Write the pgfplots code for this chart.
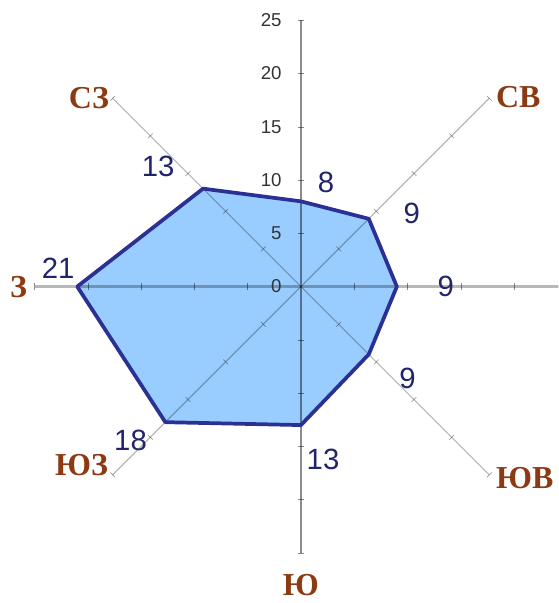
\documentclass[border=0pt]{standalone}
\usepackage{fontspec}
\setmainfont{Liberation Sans}
\newfontfamily\dirfont{Liberation Serif}
\usepackage{pgfplots}
\pgfplotsset{compat=1.18}
\definecolor{fillblue}{HTML}{99CCFF}
\definecolor{edgeblue}{HTML}{2B3192}
\definecolor{numblue}{HTML}{22236A}
\definecolor{dirbrown}{HTML}{8B3A12}
\definecolor{spokegray}{HTML}{B8B8B8}
\definecolor{vertgray}{HTML}{8C8C8C}
\definecolor{ticktext}{HTML}{333333}

\begin{document}
\begin{tikzpicture}
\begin{axis}[
    x=8pt, y=8pt,
    xmin=-28.25, xmax=24.15,
    ymin=-29.7, ymax=26.9,
    hide axis,
    clip=true,
  ]
% wind rose, (angle, frequency)
\addplot[data cs=polar, fill=fillblue, draw=none]
  coordinates {(90,8) (45,9) (0,9) (-45,9) (-90,13) (-135,18) (180,21) (135,13)} -- cycle;

% spokes
\addplot[data cs=polar, spokegray, line width=1.8pt, blend mode=multiply]
  coordinates {(0,25) (180,25)};
\addplot[data cs=polar, vertgray, line width=0.9pt, blend mode=multiply]
  coordinates {(90,25) (270,25)};
\addplot[data cs=polar, spokegray, line width=0.9pt, blend mode=multiply]
  coordinates {(45,25) (225,25)};
\addplot[data cs=polar, spokegray, line width=0.9pt, blend mode=multiply]
  coordinates {(135,25) (315,25)};

% tick crosses
\addplot[data cs=polar, only marks, mark=|, mark size=2.5pt, vertgray, blend mode=multiply]
  coordinates {(0,5) (0,10) (0,15) (0,20) (0,25) (180,5) (180,10) (180,15) (180,20) (180,25)};
\addplot[data cs=polar, only marks, mark=-, mark size=2.5pt, vertgray, blend mode=multiply]
  coordinates {(90,5) (90,10) (90,15) (90,20) (90,25) (270,5) (270,10) (270,15) (270,20) (270,25)};
\addplot[data cs=polar, only marks, mark=|, mark size=2.5pt, mark options={rotate=45}, vertgray, blend mode=multiply]
  coordinates {(45,5) (45,10) (45,15) (45,20) (45,25) (225,5) (225,10) (225,15) (225,20) (225,25)};
\addplot[data cs=polar, only marks, mark=|, mark size=2.5pt, mark options={rotate=-45}, vertgray, blend mode=multiply]
  coordinates {(135,5) (135,10) (135,15) (135,20) (135,25) (315,5) (315,10) (315,15) (315,20) (315,25)};

% outline
\addplot[data cs=polar, draw=edgeblue, line width=2.8pt, line join=round]
  coordinates {(90,8) (45,9) (0,9) (-45,9) (-90,13) (-135,18) (180,21) (135,13)} -- cycle;

% scale numbers
\pgfplotsinvokeforeach{0,5,10,15,20,25}{
  \node[anchor=east, inner sep=0pt, ticktext, font=\fontsize{14}{14}\selectfont]
    at (axis cs:-1.8,#1) {#1};
}

% values
\begin{scope}[every node/.style={numblue, font=\fontsize{22}{22}\selectfont, inner sep=0pt}]
\node at (axis cs:2.35,9.77) {8};
\node at (axis cs:10.4,6.9) {9};
\node at (axis cs:13.6,0) {9};
\node at (axis cs:10.0,-8.6) {9};
\node at (axis cs:2.07,-16.2) {13};
\node at (axis cs:-16.0,-14.4) {18};
\node at (axis cs:-22.8,1.7) {21};
\node at (axis cs:-13.4,11.3) {13};
\end{scope}

% directions
\begin{scope}[every node/.style={dirbrown, font=\dirfont\bfseries\fontsize{24}{24}\selectfont, inner sep=0pt}]
\node at (axis cs:-19.9,17.7) {СЗ};
\node at (axis cs:20.4,17.8) {СВ};
\node at (axis cs:-26.5,0) {З};
\node at (axis cs:-20.6,-16.8) {ЮЗ};
\node at (axis cs:21.0,-18.0) {ЮВ};
\node at (axis cs:0,-27.98) {Ю};
\end{scope}
\end{axis}
\pgfresetboundingbox
\useasboundingbox (current axis.south west) rectangle (current axis.north east);
\end{tikzpicture}
\end{document}
